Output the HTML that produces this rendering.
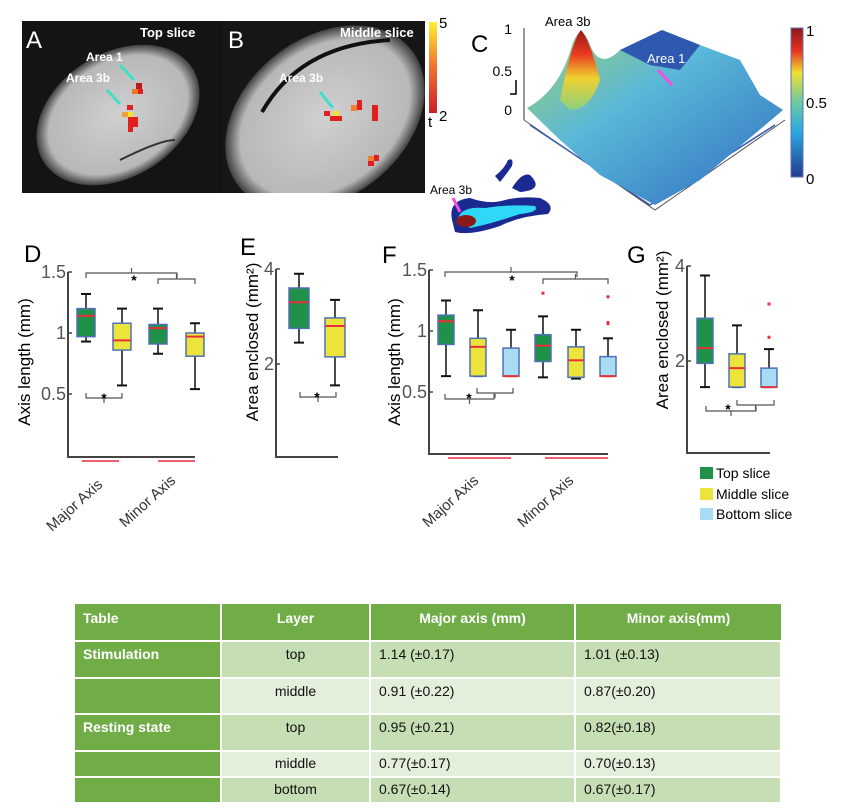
<!DOCTYPE html>
<html><head><meta charset="utf-8">
<style>
body{margin:0;background:#fff;width:841px;height:809px;overflow:hidden;font-family:"Liberation Sans",sans-serif}
svg text{font-family:"Liberation Sans",sans-serif}
table{position:absolute;left:75px;top:604px;width:707px;border-collapse:collapse;font-size:14px;color:#111}
td{padding:0 8px;vertical-align:top;border-right:2px solid #fff;border-bottom:2px solid #fff}
</style></head>
<body>
<svg id="fig" width="841" height="600" style="position:absolute;left:0;top:0">
<defs>
<radialGradient id="brainA" cx="50%" cy="50%" r="50%"><stop offset="0" stop-color="#d0d0d0"/><stop offset="0.85" stop-color="#b8b8b8"/><stop offset="1" stop-color="#404040"/></radialGradient>
<linearGradient id="tbar" x1="0" y1="0" x2="0" y2="1"><stop offset="0" stop-color="#ffee30"/><stop offset="0.5" stop-color="#f07030"/><stop offset="1" stop-color="#c82028"/></linearGradient>
<linearGradient id="jet" x1="0" y1="1" x2="0" y2="0"><stop offset="0" stop-color="#223a90"/><stop offset="0.3" stop-color="#2aa8e0"/><stop offset="0.5" stop-color="#6ccaa0"/><stop offset="0.7" stop-color="#f0e030"/><stop offset="0.85" stop-color="#e83020"/><stop offset="1" stop-color="#8a1818"/></linearGradient>
<linearGradient id="surf" x1="0" y1="0" x2="1" y2="1"><stop offset="0" stop-color="#9ed070"/><stop offset="0.4" stop-color="#5ab8d8"/><stop offset="1" stop-color="#2f6cc0"/></linearGradient>
<linearGradient id="peak" x1="0" y1="0" x2="0" y2="1"><stop offset="0" stop-color="#9a1818"/><stop offset="0.3" stop-color="#e83a20"/><stop offset="0.6" stop-color="#f0d030"/><stop offset="1" stop-color="#8ad080"/></linearGradient>
<clipPath id="clipA"><rect x="22" y="21" width="201" height="172"/></clipPath>
<clipPath id="clipB"><rect x="223" y="21" width="202" height="172"/></clipPath>
</defs>
<g>
<rect x="22" y="21" width="201" height="172" fill="#141414"/>
<rect x="223" y="21" width="202" height="172" fill="#161616"/>
<ellipse cx="118" cy="115" rx="88" ry="62" transform="rotate(-32 118 115)" fill="url(#brainA)" clip-path="url(#clipA)"/>
<g clip-path="url(#clipB)"><ellipse cx="325" cy="118" rx="110" ry="80" transform="rotate(-38 325 118)" fill="url(#brainA)"/></g>
<path d="M262 112 Q300 45 390 40" stroke="#111" stroke-width="4" fill="none"/>
<path d="M120 160 Q160 140 175 140" stroke="#333" stroke-width="2" fill="none"/>
<g fill="#e02020"><rect x="136" y="83" width="6" height="6" fill="#c01818"/><rect x="132" y="89" width="6" height="5" fill="#f07a20"/><rect x="138" y="89" width="5" height="5"/>
<rect x="127" y="105" width="6" height="5"/><rect x="122" y="112" width="6" height="5" fill="#f0a030"/><rect x="128" y="112" width="5" height="5" fill="#f8e030"/><rect x="128" y="117" width="10" height="10"/><rect x="128" y="127" width="5" height="5"/>
<rect x="324" y="111" width="6" height="5"/><rect x="333" y="111" width="6" height="5" fill="#f8e030"/><rect x="330" y="116" width="12" height="5"/><rect x="351" y="105" width="6" height="6" fill="#f08030"/><rect x="357" y="100" width="5" height="10"/><rect x="372" y="105" width="6" height="16"/><rect x="368" y="156" width="6" height="5" fill="#f08030"/><rect x="374" y="155" width="5" height="6"/><rect x="368" y="161" width="6" height="5"/></g>
<g stroke="#40e0c8" stroke-width="3"><line x1="120" y1="65" x2="134" y2="80"/><line x1="107" y1="90" x2="120" y2="104"/><line x1="320" y1="92" x2="333" y2="108"/></g>
<text x="26" y="48" font-size="24" fill="#fff">A</text>
<text x="228" y="48" font-size="24" fill="#fff">B</text>
<text x="140" y="37" font-size="13" fill="#fff" font-weight="bold">Top slice</text>
<text x="340" y="37" font-size="13" fill="#fff" font-weight="bold">Middle slice</text>
<text x="86" y="61" font-size="12" fill="#fff" font-weight="bold">Area 1</text>
<text x="66" y="82" font-size="12" fill="#fff" font-weight="bold">Area 3b</text>
<text x="279" y="82" font-size="12" fill="#fff" font-weight="bold">Area 3b</text>
</g>
<g><rect x="429" y="22" width="8" height="91" fill="url(#tbar)"/>
<text x="439" y="28" font-size="15">5</text><text x="439" y="121" font-size="15">2</text><text x="428" y="127" font-size="15">t</text></g>
<g>
<text x="471" y="52" font-size="24">C</text>
<line x1="524" y1="28" x2="524" y2="120" stroke="#333"/>
<text x="512" y="34" font-size="14" text-anchor="end">1</text><text x="512" y="76" font-size="14" text-anchor="end">0.5</text><text x="512" y="115" font-size="14" text-anchor="end">0</text>
<path d="M516 80 v14 h-6" stroke="#000" fill="none" stroke-width="1.5"/>
<path d="M524 120 L655 210 L785 120" stroke="#555" fill="none"/>
<path d="M530 125 L650 205 L775 125" stroke="#3a5ab0" fill="none" stroke-width="1.5"/>
<path d="M527 108 Q560 90 572 45 Q581 20 590 45 Q600 70 620 50 L662 30 L700 45 L740 60 L760 95 L783 110 L700 180 L655 205 L600 175 L560 140 Z" fill="url(#surf)"/>
<path d="M560 100 Q572 40 581 30 Q590 40 600 80 Q590 110 570 110 Z" fill="url(#peak)"/>
<path d="M620 50 L662 30 L700 45 L680 70 L650 65 Z" fill="#2f58b0"/>
<text x="545" y="26" font-size="13">Area 3b</text>
<text x="647" y="63" font-size="13" fill="#fff">Area 1</text>
<line x1="658" y1="70" x2="672" y2="85" stroke="#f050e0" stroke-width="3"/>
</g>
<g><rect x="791" y="28" width="12" height="149" fill="url(#jet)" stroke="#6070b0"/>
<text x="806" y="36" font-size="15">1</text><text x="806" y="108" font-size="15">0.5</text><text x="806" y="184" font-size="15">0</text></g>
<g>
<path d="M452 220 Q448 200 470 198 Q490 205 505 200 Q520 196 540 198 Q556 205 548 214 Q520 216 500 226 Q470 236 455 232 Z" fill="#1a2a90"/>
<path d="M458 218 Q462 206 485 208 Q510 204 535 206 Q540 212 520 214 Q490 224 470 228 Z" fill="#30d8f8"/>
<ellipse cx="466" cy="221" rx="10" ry="6" fill="#8a1a18"/>
<path d="M495 176 Q505 168 508 160 Q514 157 512 166 Q505 176 500 182Z" fill="#1a2a90"/>
<path d="M512 188 Q522 172 530 175 Q545 190 520 192Z" fill="#1a2a90"/>
<text x="430" y="194" font-size="12">Area 3b</text>
<line x1="453" y1="198" x2="460" y2="212" stroke="#f050e0" stroke-width="3"/>
</g>
<g id="charts"></g>
<g>
<rect x="700" y="467" width="13" height="12" fill="#1f9148"/><text x="716" y="478" font-size="14">Top slice</text>
<rect x="700" y="488" width="13" height="12" fill="#ece43a"/><text x="716" y="499" font-size="14">Middle slice</text>
<rect x="700" y="508" width="13" height="12" fill="#a8dcf2"/><text x="716" y="519" font-size="14">Bottom slice</text>
</g>
</svg>

<table>
<tr style="height:37px;background:#70ad47;color:#fff;font-weight:bold;font-size:14px"><td style="width:129px;padding-top:6px">Table</td><td style="width:131px;text-align:center;padding-top:6px">Layer</td><td style="width:187px;text-align:center;padding-top:6px">Major axis (mm)</td><td style="text-align:center;padding-top:6px;border-right:none">Minor axis(mm)</td></tr>
<tr style="height:37px;background:#c6deb4"><td style="background:#70ad47;color:#fff;font-weight:bold;font-size:14px;padding-top:4px">Stimulation</td><td style="text-align:center;padding-top:4px">top</td><td style="padding-top:4px">1.14 (±0.17)</td><td style="padding-top:4px">1.01 (±0.13)</td></tr>
<tr style="height:36px;background:#e3eedb"><td style="background:#70ad47"></td><td style="text-align:center;padding-top:4px">middle</td><td style="padding-top:4px">0.91 (±0.22)</td><td style="padding-top:4px">0.87(±0.20)</td></tr>
<tr style="height:37px;background:#c6deb4"><td style="background:#70ad47;color:#fff;font-weight:bold;font-size:14px;padding-top:4px">Resting state</td><td style="text-align:center;padding-top:4px">top</td><td style="padding-top:4px">0.95 (±0.21)</td><td style="padding-top:4px">0.82(±0.18)</td></tr>
<tr style="height:26px;background:#e3eedb"><td style="background:#70ad47"></td><td style="text-align:center;padding-top:3px">middle</td><td style="padding-top:3px">0.77(±0.17)</td><td style="padding-top:3px">0.70(±0.13)</td></tr>
<tr style="height:26px;background:#c6deb4"><td style="background:#70ad47"></td><td style="text-align:center;padding-top:3px">bottom</td><td style="padding-top:3px">0.67(±0.14)</td><td style="padding-top:3px">0.67(±0.17)</td></tr>
</table>

<script>
// Panel D data (axis length, mm)
const dCategories = ["major-top","major-middle","minor-top","minor-middle"];
const dQ1 = [0.97,0.86,0.91,0.81];
const dQ3 = [1.20,1.08,1.07,1.00];
const dMed = [1.14,0.94,1.04,0.97];
const dLo = [0.93,0.57,0.83,0.54];
const dHi = [1.32,1.20,1.20,1.08];
const dTicks = [0.5,1,1.5];
// Panel E data (area mm^2)
const eQ1 = [2.75,2.15];
const eQ3 = [3.6,2.97];
const eMed = [3.3,2.8];
const eLo = [2.45,1.55];
const eHi = [3.9,3.35];
const eTicks = [2,4];
// Panel F data (axis length, mm)
const fQ1 = [0.89,0.63,0.63,0.75,0.62,0.63];
const fQ3 = [1.13,0.94,0.86,0.97,0.87,0.79];
const fMed = [1.08,0.87,0.63,0.88,0.76,0.63];
const fLo = [0.63,0.63,0.63,0.62,0.61,0.63];
const fHi = [1.25,1.17,1.01,1.12,1.01,0.94];
const fOut = [[],[],[],[1.31],[],[1.06,1.07,1.28]];
const fTicks = [0.5,1,1.5];
// Panel G data (area mm^2)
const gQ1 = [1.95,1.45,1.45];
const gQ3 = [2.9,2.15,1.85];
const gMed = [2.27,1.85,1.45];
const gLo = [1.45,1.45,1.45];
const gHi = [3.8,2.75,2.25];
const gOut = [[],[],[2.5,3.2]];
const gTicks = [2,4];

const NS="http://www.w3.org/2000/svg";
const root=document.getElementById('charts');
function el(tag,attrs,parent){const e=document.createElementNS(NS,tag);for(const k in attrs)e.setAttribute(k,attrs[k]);(parent||root).appendChild(e);return e;}
const colors={g:"#1f9148",y:"#ece43a",b:"#a8dcf2"};

function panel(cfg){
  const g=el('g',{});
  
  
  const y=v=>cfg.y0+(v-cfg.v0)*(cfg.y1-cfg.y0)/(cfg.v1-cfg.v0);
  const ax=el('path',{d:`M${cfg.ax} ${y(cfg.vmax)} V${cfg.bottom} H${cfg.axEnd}`,stroke:'#444','stroke-width':2,fill:'none'},g);
  
  
  cfg.ticks.forEach(t=>{
    el('line',{x1:cfg.ax,x2:cfg.ax+4,y1:y(t),y2:y(t),stroke:'#444','stroke-width':1.5},g);
    const tx=el('text',{x:cfg.ax-2,y:y(t)+6,'font-size':18,fill:'#555','text-anchor':'end'},g);
    tx.textContent=t;
    
    
  });
  const yt=el('text',{transform:`translate(${cfg.titleX},${cfg.titleY}) rotate(-90)`,'font-size':17,'text-anchor':'middle'},g);
  yt.textContent=cfg.title;
  
  
  cfg.q1.forEach((q,i)=>{
    const cx=cfg.xs[i], w=cfg.bw;
    const box=el('g',{},g);
    
    
    el('line',{x1:cx,x2:cx,y1:y(cfg.hi[i]),y2:y(cfg.q3[i]),stroke:'#111','stroke-width':1.5},box);
    el('line',{x1:cx,x2:cx,y1:y(cfg.q1[i]),y2:y(cfg.lo[i]),stroke:'#111','stroke-width':1.5},box);
    el('line',{x1:cx-5,x2:cx+5,y1:y(cfg.hi[i]),y2:y(cfg.hi[i]),stroke:'#111','stroke-width':2},box);
    el('line',{x1:cx-5,x2:cx+5,y1:y(cfg.lo[i]),y2:y(cfg.lo[i]),stroke:'#111','stroke-width':2},box);
    el('rect',{x:cx-w/2,y:y(cfg.q3[i]),width:w,height:y(cfg.q1[i])-y(cfg.q3[i]),fill:colors[cfg.cols[i]],stroke:'#5070b8','stroke-width':1.5},box);
    el('line',{x1:cx-w/2,x2:cx+w/2,y1:y(cfg.med[i]),y2:y(cfg.med[i]),stroke:'#e8303a','stroke-width':2},box);
    (cfg.out&&cfg.out[i]||[]).forEach(o=>el('rect',{x:cx-1.5,y:y(o)-1.5,width:3,height:3,fill:'#f03040'},box));
  });
  (cfg.brackets||[]).forEach(b=>{
    el('path',{d:b.up?`M${b.x1} ${b.y+5} V${b.y} H${b.x2} V${b.y+5} M${(b.x1+b.x2)/2} ${b.y} v-5`:`M${b.x1} ${b.y-5} V${b.y} H${b.x2} V${b.y-5} M${(b.x1+b.x2)/2} ${b.y} v5`,stroke:'#555','stroke-width':1.2,fill:'none'},g);
  });
  (cfg.stars||[]).forEach(s=>{const t=el('text',{x:s[0],y:s[1]+6,'font-size':14,'text-anchor':'middle','font-weight':'bold'},g);t.textContent='*';});
  (cfg.reds||[]).forEach(r=>el('line',{x1:r[0],x2:r[1],y1:cfg.bottom+4,y2:cfg.bottom+4,stroke:'#f06070','stroke-width':2},g));
  (cfg.xlabels||[]).forEach(l=>{const t=el('text',{transform:`translate(${l[0]},${l[1]}) rotate(-42)`,'font-size':15,fill:'#333'},g);t.textContent=l[2];
    
    });
  const lt=el('text',{x:cfg.letter[0],y:cfg.letter[1],'font-size':24},g);
  lt.textContent=cfg.letter[2];
  
  
}
panel({name:'panel-d-boxplot',ax:68,axEnd:195,bottom:457,y0:333,v0:1,y1:394,v1:0.5,vmax:1.5,ticks:dTicks,title:'Axis length (mm)',titleX:30,titleY:362,
 xs:[86,122,158,195],bw:18,cols:['g','y','g','y'],q1:dQ1,q3:dQ3,med:dMed,lo:dLo,hi:dHi,
 brackets:[{x1:86,x2:177,y:273,up:true},{x1:158,x2:195,y:279,up:true},{x1:86,x2:122,y:398,up:false}],stars:[[134,279],[104,397]],
 reds:[[82,119],[158,195]],xlabels:[[52,532,'Major Axis'],[125,528,'Minor Axis']],letter:[24,262,'D']});
panel({name:'panel-e-boxplot',ax:276,axEnd:338,bottom:457,y0:364,v0:2,y1:269,v1:4,vmax:4,ticks:eTicks,title:'Area enclosed (mm²)',titleX:258,titleY:342,
 xs:[299,335],bw:20,cols:['g','y'],q1:eQ1,q3:eQ3,med:eMed,lo:eLo,hi:eHi,
 brackets:[{x1:300,x2:336,y:397,up:false}],stars:[[317,396]],letter:[240,255,'E']});
panel({name:'panel-f-boxplot',ax:429,axEnd:608,bottom:454,y0:331,v0:1,y1:392,v1:0.5,vmax:1.5,ticks:fTicks,title:'Axis length (mm)',titleX:400,titleY:362,
 xs:[446,478,511,543,576,608],bw:16,cols:['g','y','b','g','y','b'],q1:fQ1,q3:fQ3,med:fMed,lo:fLo,hi:fHi,out:fOut,
 brackets:[{x1:445,x2:577,y:272,up:true},{x1:543,x2:608,y:279,up:true},{x1:445,x2:494,y:399,up:false},{x1:477,x2:513,y:393,up:false}],stars:[[512,279],[469,397]],
 reds:[[448,511],[545,608]],xlabels:[[428,528,'Major Axis'],[523,528,'Minor Axis']],letter:[382,263,'F']});
panel({name:'panel-g-boxplot',ax:687,axEnd:770,bottom:453,y0:361,v0:2,y1:266,v1:4,vmax:4,ticks:gTicks,title:'Area enclosed (mm²)',titleX:668,titleY:330,
 xs:[705,737,769],bw:16,cols:['g','y','b'],q1:gQ1,q3:gQ3,med:gMed,lo:gLo,hi:gHi,out:gOut,
 brackets:[{x1:706,x2:756,y:411,up:false},{x1:737,x2:774,y:405,up:false}],stars:[[728,408]],letter:[627,263,'G']});
</script>
</body></html>
